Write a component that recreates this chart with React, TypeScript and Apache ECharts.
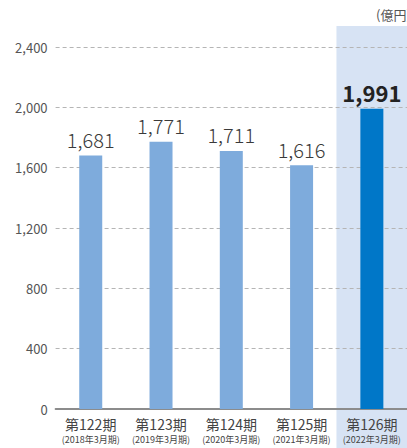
import React, { useEffect, useRef } from "react";
import * as echarts from "echarts";

const periods = ["第122期", "第123期", "第124期", "第125期", "第126期"];
const fiscalYears = ["(2018年3月期)", "(2019年3月期)", "(2020年3月期)", "(2021年3月期)", "(2022年3月期)"];
const values = [1681, 1771, 1711, 1616, 1991];
const yTicks = [0, 400, 800, 1200, 1600, 2000, 2400];
const unitLabel = "(億円)";
const highlightIndex = 4;

const FONT = "'Noto Sans CJK JP', 'Noto Sans', sans-serif";

export default function App() {
  const ref = useRef<HTMLDivElement>(null);
  useEffect(() => {
    document.body.style.margin = "0";
    if (!ref.current) return;
    const chart = echarts.init(ref.current, undefined, { renderer: "svg" });
    const fmt = (v: number) => v.toLocaleString("en-US");
    chart.setOption({
      animation: false,
      grid: { left: 55.6, top: 47, width: 354, bottom: 39, containLabel: false },
      xAxis: {
        type: "category",
        data: periods.map((p, i) => p + "\n" + fiscalYears[i]),
        axisLine: { lineStyle: { color: "#8c8c8c", width: 2 } },
        axisTick: { show: false },
        axisLabel: {
          interval: 0,
          margin: 6,
          formatter: (v: string) => {
            const [a, b] = v.split("\n");
            return `{a|${a}}\n{b|${b}}`;
          },
          rich: {
            a: { fontFamily: FONT, fontSize: 14, color: "#444", lineHeight: 17 },
            b: { fontFamily: FONT, fontSize: 9, color: "#444", lineHeight: 14 },
          },
        },
      },
      yAxis: {
        type: "value",
        min: yTicks[0],
        max: yTicks[yTicks.length - 1],
        interval: 400,
        axisLine: { show: false },
        axisTick: { show: false },
        axisLabel: {
          formatter: (v: number) => fmt(v),
          fontFamily: FONT,
          fontSize: 13,
          color: "#555",
          margin: 8,
        },
        splitLine: { lineStyle: { color: "#b5b5b5", type: [4, 3], width: 1 } },
      },
      series: [
        {
          type: "bar",
          z: 3,
          barWidth: 23,
          data: values.map((v, i) => ({
            value: v,
            itemStyle: { color: i === highlightIndex ? "#0077c8" : "#7eabdc" },
            label: {
              show: true,
              position: "top",
              distance: 6,
              formatter: () => fmt(v),
              fontFamily: FONT,
              fontSize: i === highlightIndex ? 22 : 20,
              fontWeight: i === highlightIndex ? "bold" : 300,
              color: i === highlightIndex ? "#222" : "#3a3a3a",
            },
          })),
        },
      ],
    });
    const center = chart.convertToPixel({ xAxisIndex: 0 }, highlightIndex) as number;
    const bandW = 354 / periods.length;
    chart.setOption({
      graphic: [
        {
          type: "rect",
          z: -10,
          silent: true,
          shape: { x: center - bandW / 2, y: 26, width: bandW + 10, height: 448 - 26 },
          style: { fill: "#d7e3f4" },
        },
        {
          type: "text",
          left: 376,
          top: 8,
          style: { text: unitLabel, font: `13px ${FONT}`, fill: "#555" },
        },
      ],
    });
    return () => chart.dispose();
  }, []);
  return <div ref={ref} style={{ width: 407, height: 448 }} />;
}
